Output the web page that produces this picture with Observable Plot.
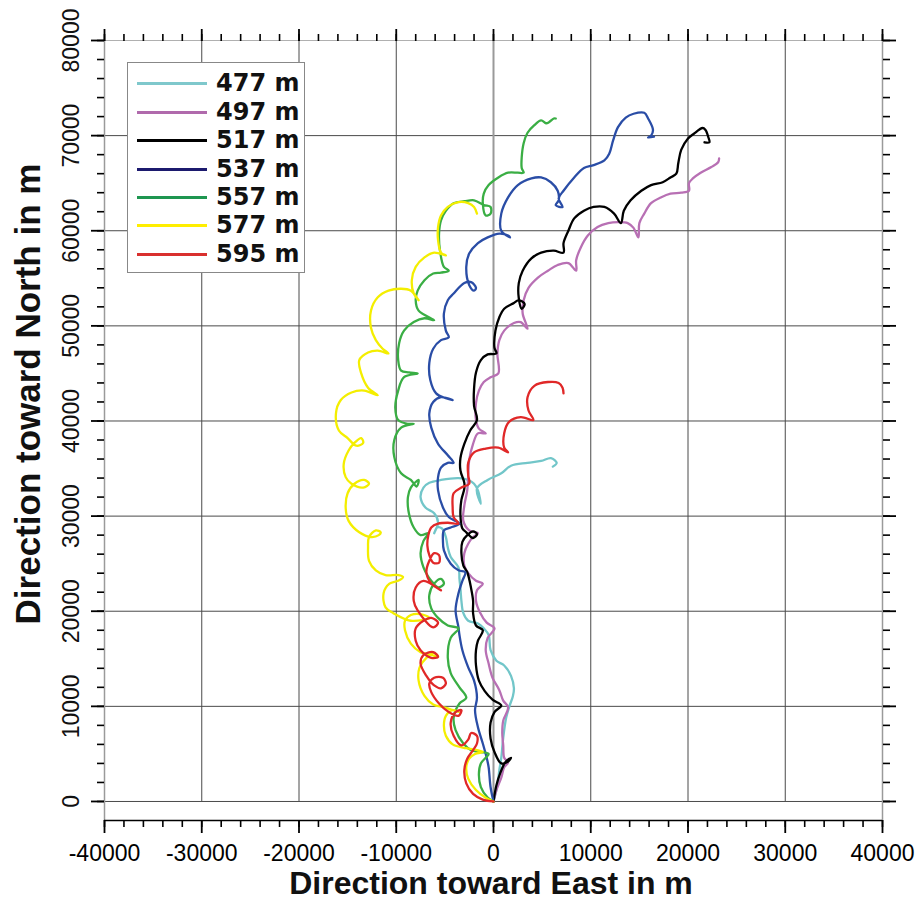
<!DOCTYPE html>
<html><head><meta charset="utf-8">
<script src="https://cdn.jsdelivr.net/npm/d3@7"></script>
<script src="https://cdn.jsdelivr.net/npm/@observablehq/plot@0.6"></script>
<style>
body{margin:0;background:#fff;}
#wrap{position:relative;width:918px;height:902px;overflow:hidden;}
#legend{position:absolute;left:127px;top:62px;width:176px;height:209px;border:1px solid #888;background:#fff;}
.row{position:absolute;left:0;width:176px;height:28px;}
.sw{position:absolute;left:9px;top:13px;width:70px;height:3px;}
.lab{position:absolute;left:88px;top:0;font:bold 24px "DejaVu Sans",sans-serif;line-height:28px;color:#111;white-space:nowrap;}
.ttl{position:absolute;font-family:"Liberation Sans",Arial,sans-serif;font-weight:bold;white-space:nowrap;line-height:1;color:#111;}
</style></head><body><div id="wrap"></div>
<script>
const seriesNames = ["477 m","497 m","517 m","537 m","557 m","577 m","595 m"];
const lineColors = ["#72c6c9","#b870b4","#000000","#2a4da6","#3aae44","#f4ee00","#e02828"];
const legendColors = ["#7fc8cc","#b06aac","#000000","#1c1a6e","#1e9650","#ffee00","#d9302e"];
const xTicks = [-40000,-30000,-20000,-10000,0,10000,20000,30000,40000];
const yTicks = [0,10000,20000,30000,40000,50000,60000,70000,80000];
const xTitle = "Direction toward East in m";
const yTitle = "Direction toward North in m";

// trajectories [east m, north m]
const track477 = [[0,0],[400,1700],[600,3300],[800,4600],[1000,6700],[1300,8800],[1600,9900],[2000,11100],[2100,11900],[1800,13200],[1100,14300],[300,14800],[-300,15900],[-500,17500],[-1000,18200],[-1600,18700],[-2600,19000],[-3100,19800],[-3300,21100],[-3400,22400],[-3500,23400],[-3600,24600],[-4400,25700],[-4700,26700],[-4900,27800],[-5300,28700],[-5800,28800],[-6100,28200],[-5700,29300],[-6100,30300],[-7000,30900],[-7500,32000],[-7200,33000],[-6600,33500],[-5400,33800],[-3600,34000],[-2600,33800],[-2000,33400],[-1600,32700],[-1300,31300],[-1700,32900],[-600,33800],[800,34500],[1800,35300],[3500,35600],[4900,35800],[5900,36100],[6500,35600],[6100,35200]];
const track497 = [[0,0],[300,1200],[800,2500],[1100,3600],[1500,4100],[1100,4600],[1000,5900],[900,7200],[1000,8500],[1500,9900],[1000,10600],[600,11700],[-100,13000],[-500,14500],[-800,15900],[-600,17200],[100,18200],[-700,18800],[-1400,19900],[-1800,21100],[-1700,22200],[-1100,22900],[-1800,23200],[-2600,24000],[-3000,24800],[-3000,26100],[-2600,27100],[-2100,27800],[-1600,28200],[-2500,28500],[-3100,29500],[-3000,31100],[-2700,32700],[-2600,34300],[-2500,35900],[-2100,37600],[-1600,38700],[-800,38700],[-1500,39200],[-1800,40100],[-1800,41900],[-1500,43200],[-1000,44100],[-300,44600],[500,45000],[400,47100],[600,48500],[1100,49500],[2100,50300],[2800,50400],[3500,49700],[3000,51300],[3100,52700],[3600,54000],[4600,55100],[5600,55800],[6600,56400],[7700,56600],[8500,55800],[8500,56900],[9000,58300],[9700,59500],[10700,60400],[11800,60800],[12800,60900],[13800,60800],[14400,60300],[14900,59300],[15000,60800],[15500,61800],[16200,62900],[17200,63500],[18200,63900],[19300,64000],[20100,64200],[20100,65000],[20500,65500],[21300,66100],[22400,66700],[23100,67200],[23200,67600]];
const track517 = [[0,0],[300,1700],[700,3000],[1200,4100],[1800,4600],[1500,4200],[800,4000],[100,5200],[-300,6600],[-300,8300],[100,9400],[800,10100],[-100,10700],[-900,11600],[-1500,12700],[-1800,14300],[-1800,15900],[-1600,16900],[-1100,18000],[-1800,18500],[-2100,19800],[-2100,21100],[-2300,22400],[-2700,24100],[-3100,24800],[-3300,26100],[-3200,27300],[-2700,28000],[-2100,28400],[-1700,28100],[-2100,27700],[-2800,28300],[-3200,28700],[-3400,30100],[-3300,31700],[-3000,32900],[-3000,33500],[-3400,34800],[-3400,36100],[-3000,37600],[-2400,39000],[-1700,40100],[-2000,41600],[-2000,43400],[-1800,45100],[-1300,46400],[-600,47000],[300,47100],[100,47700],[200,49500],[600,50900],[1100,51800],[2100,52400],[2600,52700],[3200,52300],[2900,51800],[2600,52900],[2600,54500],[3000,55800],[3900,57100],[4900,57700],[6200,57900],[7200,57700],[7200,58700],[7700,60000],[8300,61300],[9300,62100],[10300,62500],[11400,62500],[12400,61800],[13100,60800],[13400,62100],[14100,63200],[15200,64200],[16200,64800],[17400,65100],[18200,65600],[18800,66000],[19000,67100],[19300,68500],[20000,69700],[20600,70200],[21500,70800],[21800,70600],[22100,69800],[22200,69300],[21700,69300]];
const track537 = [[0,0],[-300,1500],[-500,3600],[-700,4600],[-1100,6100],[-1600,7800],[-1900,9600],[-1700,10900],[-2000,12700],[-2600,14100],[-3200,15900],[-3500,17500],[-3600,18300],[-3900,20100],[-3600,21900],[-3200,23200],[-2900,24100],[-3600,24300],[-4400,25000],[-5100,26400],[-5200,27400],[-5100,28500],[-4400,28800],[-3500,29200],[-4600,29900],[-5200,30900],[-5700,32700],[-5700,34100],[-5400,35100],[-4700,35600],[-4100,35600],[-4700,36400],[-5700,37600],[-6400,39300],[-6600,40800],[-6200,42000],[-5400,42500],[-4200,42200],[-4900,42400],[-5900,42900],[-6500,44300],[-6600,46100],[-6200,47600],[-5400,48500],[-4600,48800],[-4900,49500],[-5100,51300],[-4700,52700],[-4100,53400],[-3000,54500],[-2300,54600],[-1800,54000],[-2000,53700],[-2500,54300],[-2800,56200],[-2500,57600],[-1600,58700],[-600,59300],[600,59700],[1500,59500],[1700,59300],[800,60000],[800,61800],[1500,63500],[2500,64800],[3900,65500],[4900,65600],[5900,65100],[6600,64200],[6700,63200],[6400,62700],[7100,62500],[6700,63400],[7200,64200],[8300,65600],[9300,66600],[10300,66900],[11400,67400],[11900,68100],[12300,69500],[12800,70900],[13600,71900],[14400,72300],[15500,72400],[15900,71800],[16400,70600],[16200,70000],[15900,69800],[16500,69900]];
const track557 = [[0,0],[-600,400],[-1300,1500],[-1500,2900],[-1300,4000],[-800,4600],[-500,5000],[-1300,5200],[-2300,5400],[-3100,6100],[-3900,7500],[-4100,8800],[-3500,10300],[-2800,10900],[-3500,12000],[-4400,13500],[-4700,15100],[-4400,17200],[-3600,18200],[-4700,18500],[-5700,19300],[-6400,20300],[-6600,21700],[-6100,22900],[-5400,23400],[-5100,22900],[-5700,22500],[-6400,23200],[-6700,23600],[-7200,24600],[-7500,26100],[-7200,27400],[-6700,28200],[-7500,28000],[-8200,28800],[-8700,30300],[-8800,32000],[-8500,33000],[-7700,33800],[-7900,33100],[-8500,33800],[-9500,34500],[-10200,36200],[-10200,38000],[-9500,39300],[-8200,39700],[-8800,39700],[-9800,40100],[-10100,41400],[-9800,43200],[-9200,44600],[-7800,45000],[-8700,45100],[-9500,45300],[-9800,46400],[-9700,48200],[-9200,49500],[-8200,50400],[-7100,50800],[-6100,50600],[-7700,51600],[-8000,52700],[-7800,53700],[-7100,54800],[-6200,55500],[-5400,55600],[-4600,55800],[-5100,56200],[-5500,57900],[-5600,59700],[-5400,61100],[-4900,62100],[-4100,62900],[-3000,63100],[-2000,63200],[-1000,62700],[-300,62500],[-300,61800],[-800,61600],[-1100,62900],[-1000,63900],[-500,64800],[500,65600],[1500,66100],[2500,66100],[3100,66100],[2900,66600],[2900,67700],[3100,69200],[3500,70300],[4200,71100],[4900,71600],[5400,71300],[5700,71400],[6200,71800],[6400,71800]];
const track577 = [[0,0],[-800,400],[-1800,1200],[-2600,2400],[-2800,3600],[-2500,4500],[-1900,5000],[-1100,5200],[-1700,5400],[-2800,5600],[-4200,6000],[-4900,6900],[-5100,8000],[-4900,9000],[-4200,9600],[-3500,9400],[-5100,9900],[-6200,10200],[-7100,11100],[-7700,12700],[-7600,14100],[-6900,15100],[-6100,15600],[-5700,15200],[-6400,15400],[-7500,15700],[-8500,16600],[-9100,18000],[-9100,19000],[-8500,19600],[-7500,19700],[-6600,19300],[-8500,19000],[-10300,19800],[-11100,20400],[-11300,21900],[-10700,22900],[-9800,23200],[-9300,23600],[-9800,23800],[-11100,23800],[-12100,24300],[-12800,25300],[-12900,26700],[-12800,27800],[-12100,28500],[-11600,28300],[-11800,28000],[-12600,27800],[-13800,28300],[-14900,29500],[-15200,30900],[-15000,32400],[-14300,33400],[-13300,33800],[-12800,33400],[-13400,33000],[-14600,33400],[-15200,34100],[-15400,35500],[-14900,36900],[-14300,37700],[-13600,38200],[-13400,37700],[-14100,37400],[-15000,38200],[-15900,39000],[-16200,40800],[-15700,42200],[-14600,43000],[-13300,43200],[-11900,42700],[-12900,43500],[-13600,45000],[-13800,46400],[-12900,47200],[-11900,47400],[-10800,47100],[-11400,47600],[-12100,48500],[-12600,49800],[-12600,51600],[-11900,53000],[-10800,53700],[-9500,53900],[-8500,53700],[-7700,52700],[-8200,53400],[-8400,54800],[-8000,56200],[-7100,57200],[-6100,57700],[-4900,57400],[-5400,57700],[-5700,59000],[-5700,60400],[-5400,61600],[-4700,62500],[-3600,63000],[-2600,62900],[-2000,62500],[-1700,61800]];
const track595 = [[0,0],[-1100,200],[-2100,800],[-2800,1900],[-3000,3300],[-2700,4500],[-2100,5400],[-1700,6100],[-1700,6900],[-2300,7200],[-2600,6500],[-3300,5900],[-4100,6900],[-4400,8300],[-3900,9400],[-3300,9600],[-3600,9000],[-4600,9400],[-5600,10300],[-6400,11500],[-6600,12400],[-6100,13000],[-5200,13000],[-4900,12400],[-5400,11900],[-6100,12200],[-6900,13200],[-7500,14500],[-7200,15400],[-6200,15700],[-5700,15200],[-6400,15100],[-7500,15900],[-8000,16900],[-8000,18200],[-7200,19000],[-6400,19300],[-5700,18800],[-6200,18300],[-7800,20100],[-8200,21100],[-8000,22500],[-7200,23200],[-5400,22200],[-6400,22900],[-6900,24100],[-6600,25300],[-6100,26100],[-5600,25900],[-5600,25100],[-6200,25100],[-6600,25900],[-6800,26900],[-6700,28000],[-6400,28800],[-5700,29200],[-4700,29300],[-3600,29200],[-4100,29900],[-4200,30900],[-4100,32400],[-3300,33000],[-2500,33400],[-2600,34300],[-2600,35600],[-2000,36700],[-800,37100],[500,37200],[1500,36700],[1100,37200],[1100,38700],[1600,39900],[2800,40400],[4100,40100],[3600,41100],[3500,42500],[4200,43700],[5600,44100],[6700,44000],[7100,43500],[7200,42900]];

const tracks = [track477, track497, track517, track537, track557, track577, track595];
const table = tracks.flatMap((t, i) => t.map(([e, n]) => ({east: e, north: n, series: seriesNames[i]})));

const xMinor = d3.range(-40000, 40001, 2000);
const yMinor = d3.range(0, 80001, 2000);
const xGrid = xTicks.filter(d => d > -40000 && d < 40000 && d !== 0);
const yGrid = yTicks.filter(d => d < 80000);
const noText = () => "";

const chart = Plot.plot({
  width: 918, height: 902,
  marginLeft: 104, marginRight: 36, marginTop: 40, marginBottom: 82,
  x: {domain: [-40000, 40000], axis: null, label: null},
  y: {domain: [-2000, 80000], axis: null, label: null},
  color: {domain: seriesNames, range: lineColors},
  style: {background: "white", fontFamily: "'Liberation Sans', Arial, sans-serif", overflow: "visible"},
  marks: [
    Plot.ruleX(xGrid, {y1: 0, y2: 80000, stroke: "#4a4a4a", strokeWidth: 1}),
    Plot.ruleY(yGrid, {x1: -40000, x2: 40000, stroke: "#4a4a4a", strokeWidth: 1}),
    Plot.ruleX([0], {y1: 0, y2: 80000, stroke: "#9a9a9a", strokeWidth: 2}),
    Plot.ruleX([-40000, 40000], {y1: -2000, y2: 80000, stroke: "#9a9a9a", strokeWidth: 1.5}),
    Plot.ruleY([80000], {x1: -40000, x2: 40000, stroke: "#b0b0b0", strokeWidth: 1.2}),
    Plot.ruleY([-2000], {x1: -40000, x2: 40000, stroke: "#000", strokeWidth: 1.6}),
    Plot.axisX(xMinor, {anchor: "bottom", tickSize: 7, tickFormat: noText, strokeWidth: 1.6, label: null}),
    Plot.axisX(xTicks, {anchor: "bottom", tickSize: 13, tickPadding: 11, fontSize: 23, tickFormat: d => String(d), strokeWidth: 1.8, label: null}),
    Plot.axisX(xMinor, {anchor: "top", tickSize: 7, tickFormat: noText, strokeWidth: 1.6, label: null}),
    Plot.axisX(xTicks, {anchor: "top", tickSize: 12, tickFormat: noText, strokeWidth: 1.8, label: null}),
    Plot.axisY(yMinor, {anchor: "left", tickSize: 7, tickFormat: noText, strokeWidth: 1.6, label: null}),
    Plot.axisY(yTicks, {anchor: "left", tickSize: 13, tickFormat: noText, strokeWidth: 1.8, label: null}),
    Plot.axisY(yMinor, {anchor: "right", tickSize: 7, tickFormat: noText, strokeWidth: 1.6, label: null}),
    Plot.axisY(yTicks, {anchor: "right", tickSize: 13, tickFormat: noText, strokeWidth: 1.8, label: null}),
    Plot.text(yTicks, {x: () => -40000, y: d => d, text: d => String(d), rotate: -90, dx: -33, fontSize: 23, textAnchor: "middle", lineAnchor: "middle", fill: "#111"}),
    Plot.line(table, {x: "east", y: "north", z: "series", stroke: "series", strokeWidth: 2.3, strokeLinejoin: "round", strokeLinecap: "round", curve: "catmull-rom"})
  ]
});

const wrap = document.getElementById("wrap");
wrap.appendChild(chart);

const legend = document.createElement("div");
legend.id = "legend";
const rowTops = [6, 35, 63, 92, 120, 148, 177];
seriesNames.forEach((name, i) => {
  const row = document.createElement("div");
  row.className = "row";
  row.style.top = rowTops[i] + "px";
  const sw = document.createElement("div");
  sw.className = "sw";
  sw.style.background = legendColors[i];
  const lab = document.createElement("div");
  lab.className = "lab";
  lab.textContent = name;
  row.appendChild(sw); row.appendChild(lab);
  legend.appendChild(row);
});
wrap.appendChild(legend);

const xt = document.createElement("div");
xt.className = "ttl";
xt.textContent = xTitle;
xt.style.fontSize = "32px";
xt.style.left = "491px";
xt.style.top = "867px";
xt.style.transform = "translateX(-50%)";
wrap.appendChild(xt);

const yt = document.createElement("div");
yt.className = "ttl";
yt.textContent = yTitle;
yt.style.fontSize = "35px";
yt.style.left = "27px";
yt.style.top = "394px";
yt.style.transform = "translate(-50%,-50%) rotate(-90deg)";
wrap.appendChild(yt);
</script></body></html>
